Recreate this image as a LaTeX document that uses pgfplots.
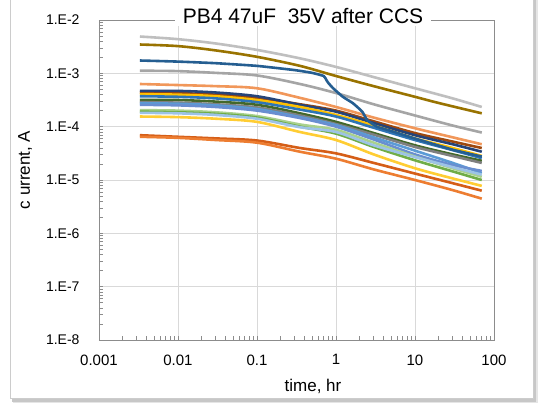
\documentclass[border=0pt]{standalone}
\usepackage{fontspec}
\setmainfont{Liberation Sans}
\usepackage{pgfplots}
\pgfplotsset{compat=1.18}
\definecolor{cgraytop}{HTML}{BFBFBF}
\definecolor{colive}{HTML}{997300}
\definecolor{cbluedrop}{HTML}{255E91}
\definecolor{cgray}{HTML}{A5A5A5}
\definecolor{corlight}{HTML}{F1975A}
\definecolor{cbrown}{HTML}{9E480E}
\definecolor{cnavy}{HTML}{264478}
\definecolor{cyellow}{HTML}{FFC000}
\definecolor{cblue}{HTML}{2E75B6}
\definecolor{cdgreen}{HTML}{43682B}
\definecolor{cdgray}{HTML}{7F7F7F}
\definecolor{clblue}{HTML}{5B9BD5}
\definecolor{cslate}{HTML}{698ED0}
\definecolor{clgreen}{HTML}{A9D18E}
\definecolor{cgreen}{HTML}{70AD47}
\definecolor{clblue2}{HTML}{9DC3E6}
\definecolor{cyellow2}{HTML}{FFCD33}
\definecolor{cordark}{HTML}{D55E17}
\definecolor{corange}{HTML}{ED7D31}
\begin{document}
\begin{tikzpicture}
\useasboundingbox (-99bp,-63bp) rectangle (439bp,340bp);
% frame with shadow
\fill[black!10] (-86bp,-63bp) rectangle (439bp,345bp);
\fill[black!22] (-87bp,-61.5bp) rectangle (437bp,345bp);
\filldraw[fill=white,draw=black!20] (-89bp,-58bp) rectangle (434bp,345bp);
\begin{axis}[
  scale only axis, width=395bp, height=320bp,
  at={(0bp,0bp)}, anchor=south west,
  xmode=log, ymode=log,
  xmin=0.001, xmax=100, ymin=1e-8, ymax=1e-2,
  xtick={0.001,0.01,0.1,1,10,100},
  xticklabels={0.001,0.01,0.1,1,10,100},
  ytick={1e-8,1e-7,1e-6,1e-5,1e-4,1e-3,1e-2},
  yticklabels={1.E-8,1.E-7,1.E-6,1.E-5,1.E-4,1.E-3,1.E-2},
  minor xtick={0.002,0.003,0.004,0.005,0.006,0.007,0.008,0.009,
    0.02,0.03,0.04,0.05,0.06,0.07,0.08,0.09,
    0.2,0.3,0.4,0.5,0.6,0.7,0.8,0.9,
    2,3,4,5,6,7,8,9,20,30,40,50,60,70,80,90},
  minor ytick={2e-8,3e-8,4e-8,5e-8,6e-8,7e-8,8e-8,9e-8,
    2e-7,3e-7,4e-7,5e-7,6e-7,7e-7,8e-7,9e-7,
    2e-6,3e-6,4e-6,5e-6,6e-6,7e-6,8e-6,9e-6,
    2e-5,3e-5,4e-5,5e-5,6e-5,7e-5,8e-5,9e-5,
    2e-4,3e-4,4e-4,5e-4,6e-4,7e-4,8e-4,9e-4,
    2e-3,3e-3,4e-3,5e-3,6e-3,7e-3,8e-3,9e-3},
  xtick pos=bottom, ytick pos=left,
  tick align=inside,
  major tick length=4bp, minor tick length=4bp,
  grid=major,
  major grid style={draw=black!15, line width=0.7bp},
  minor grid style={draw=none},
  axis line style={draw=black!45, line width=0.8bp},
  tick style={draw=black!45, line width=0.6bp},
  xticklabel style={font=\fontsize{15bp}{18bp}\selectfont, yshift=-11bp},
  yticklabel style={font=\fontsize{14bp}{17bp}\selectfont, xshift=-16bp},
  every axis plot/.append style={line width=2.6bp, mark=none, line join=round, smooth, tension=0.5},
]
\addplot[cgraytop] coordinates {(0.0033,4.90e-3)(0.01,4.37e-3)(0.03,3.63e-3)(0.1,2.75e-3)(0.35,1.91e-3)(1,1.32e-3)(3,8.51e-4)(10,5.25e-4)(30,3.39e-4)(70,2.34e-4)};
\addplot[colive] coordinates {(0.0033,3.47e-3)(0.01,3.24e-3)(0.03,2.69e-3)(0.1,2.04e-3)(0.35,1.38e-3)(1,8.91e-4)(3,5.75e-4)(10,3.63e-4)(17,2.95e-4)(30,2.40e-4)(70,1.78e-4)};
\addplot[cgray] coordinates {(0.0033,1.12e-3)(0.01,1.10e-3)(0.03,1.02e-3)(0.1,9.12e-4)(0.35,6.31e-4)(1,4.27e-4)(3,2.63e-4)(10,1.62e-4)(30,1.05e-4)(70,7.76e-5)};
\addplot[corlight] coordinates {(0.0033,6.31e-4)(0.01,6.03e-4)(0.03,5.75e-4)(0.1,5.25e-4)(0.35,3.47e-4)(1,2.34e-4)(3,1.48e-4)(10,9.33e-5)(30,6.31e-5)(70,4.68e-5)};
\addplot[cbrown] coordinates {(0.0033,4.37e-4)(0.01,4.27e-4)(0.03,3.98e-4)(0.1,3.47e-4)(0.35,2.63e-4)(1,2.00e-4)(3,1.26e-4)(10,7.59e-5)(30,5.25e-5)(70,3.98e-5)};
\addplot[cnavy] coordinates {(0.0033,4.68e-4)(0.01,4.68e-4)(0.03,4.37e-4)(0.1,3.72e-4)(0.35,2.57e-4)(1,1.91e-4)(3,1.17e-4)(10,6.92e-5)(30,4.68e-5)(70,3.39e-5)};
\addplot[cyellow] coordinates {(0.0033,4.07e-4)(0.01,3.98e-4)(0.03,3.72e-4)(0.1,3.16e-4)(0.35,2.34e-4)(1,1.66e-4)(3,1.05e-4)(10,6.03e-5)(30,3.98e-5)(70,2.82e-5)};
\addplot[cblue] coordinates {(0.0033,3.72e-4)(0.01,3.63e-4)(0.03,3.39e-4)(0.1,2.88e-4)(0.35,2.09e-4)(1,1.55e-4)(3,9.55e-5)(10,5.62e-5)(30,3.63e-5)(70,2.57e-5)};
\addplot[cdgreen] coordinates {(0.0033,3.16e-4)(0.01,3.16e-4)(0.03,2.95e-4)(0.1,2.57e-4)(0.35,1.78e-4)(1,1.23e-4)(3,7.59e-5)(10,4.47e-5)(30,3.02e-5)(70,2.29e-5)};
\addplot[cdgray] coordinates {(0.0033,2.88e-4)(0.01,2.82e-4)(0.03,2.63e-4)(0.1,2.29e-4)(0.35,1.62e-4)(1,1.12e-4)(3,7.08e-5)(10,4.17e-5)(30,2.82e-5)(70,2.09e-5)};
\addplot[clblue] coordinates {(0.0033,2.75e-4)(0.01,2.69e-4)(0.03,2.51e-4)(0.1,2.14e-4)(0.35,1.51e-4)(1,1.07e-4)(3,6.31e-5)(10,3.55e-5)(30,2.09e-5)(70,1.35e-5)};
\addplot[cslate] coordinates {(0.0033,2.57e-4)(0.01,2.51e-4)(0.03,2.34e-4)(0.1,2.00e-4)(0.35,1.45e-4)(1,1.00e-4)(3,5.75e-5)(10,3.02e-5)(30,1.91e-5)(70,1.48e-5)};
\addplot[clgreen] coordinates {(0.0033,2.04e-4)(0.01,2.00e-4)(0.03,1.86e-4)(0.1,1.58e-4)(0.35,1.10e-4)(1,8.71e-5)(3,5.01e-5)(10,2.75e-5)(30,1.66e-5)(70,1.15e-5)};
\addplot[cgreen] coordinates {(0.0033,1.91e-4)(0.01,1.86e-4)(0.03,1.74e-4)(0.1,1.48e-4)(0.35,1.00e-4)(1,7.41e-5)(3,4.17e-5)(10,2.34e-5)(30,1.45e-5)(70,1.00e-5)};
\addplot[clblue2] coordinates {(0.0033,1.82e-4)(0.01,1.78e-4)(0.03,1.66e-4)(0.1,1.41e-4)(0.35,9.77e-5)(1,7.94e-5)(3,4.47e-5)(10,2.69e-5)(30,1.74e-5)(70,1.26e-5)};
\addplot[cyellow2] coordinates {(0.0033,1.55e-4)(0.01,1.51e-4)(0.03,1.41e-4)(0.1,1.23e-4)(0.35,7.94e-5)(1,5.62e-5)(3,3.02e-5)(10,1.66e-5)(30,1.07e-5)(70,7.76e-6)};
\addplot[cordark] coordinates {(0.0033,6.92e-5)(0.01,6.46e-5)(0.03,6.03e-5)(0.1,5.50e-5)(0.35,3.98e-5)(1,3.16e-5)(3,2.09e-5)(10,1.32e-5)(30,8.71e-6)(70,6.31e-6)};
\addplot[corange] coordinates {(0.0033,6.46e-5)(0.01,6.17e-5)(0.03,5.62e-5)(0.1,5.01e-5)(0.35,3.39e-5)(1,2.51e-5)(3,1.58e-5)(10,1.00e-5)(30,6.46e-6)(70,4.47e-6)};
\addplot[cbluedrop, tension=0.25] coordinates {(0.0033,1.74e-3)(0.01,1.66e-3)(0.03,1.55e-3)(0.1,1.38e-3)(0.3,1.15e-3)(0.5,1.02e-3)(0.70,8.9e-4)(0.76,7.4e-4)(0.80,6.6e-4)(0.92,5.25e-4)(1.22,3.63e-4)(1.64,2.75e-4)(2.15,1.91e-4)(2.49,1.32e-4)(3.3,1.00e-4)(5,8.3e-5)(10,6.0e-5)(30,3.7e-5)(70,2.75e-5)};
\end{axis}
\node[fill=white, inner xsep=8bp, inner ysep=2bp, anchor=base, font=\fontsize{21bp}{24bp}\selectfont] at (204bp,316bp) {PB4 47uF\ \ 35V after CCS};
\node[font=\fontsize{17bp}{20bp}\selectfont] at (214bp,-46bp) {time, hr};
\node[rotate=90, font=\fontsize{17bp}{20bp}\selectfont] at (-74bp,170bp) {c urrent, A};
\end{tikzpicture}
\end{document}
